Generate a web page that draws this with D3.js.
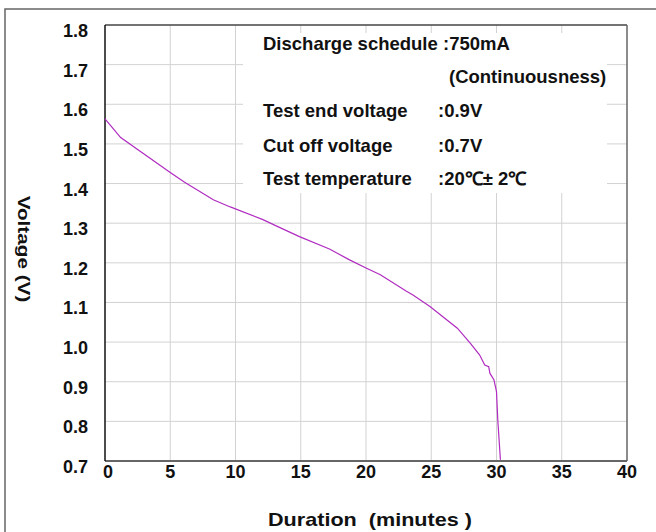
<!DOCTYPE html>
<html>
<head>
<meta charset="utf-8">
<script src="https://cdn.jsdelivr.net/npm/d3@7"></script>
<style>
  html, body { margin: 0; padding: 0; background: #fff; }
  svg { display: block; font-family: "Liberation Sans", Arial, sans-serif; font-weight: bold; }
</style>
</head>
<body>
<div class="canvas"></div>
<script>
// discharge curve
const minutes = [0, 1.2, 5, 6.1, 8.3, 9.6, 12.1, 13.2, 14.9, 17.2, 18.7, 20, 21.1, 23.1, 23.6, 24.9, 27, 28, 28.7, 29.1, 29.4, 29.5, 29.8, 30, 30.1, 30.3];
const voltage = [1.563, 1.516, 1.428, 1.403, 1.359, 1.341, 1.309, 1.292, 1.266, 1.235, 1.208, 1.187, 1.170, 1.128, 1.119, 1.090, 1.035, 0.997, 0.968, 0.942, 0.938, 0.921, 0.905, 0.875, 0.803, 0.703];

const xTicks = [0, 5, 10, 15, 20, 25, 30, 35, 40];
const yTicks = [0.7, 0.8, 0.9, 1.0, 1.1, 1.2, 1.3, 1.4, 1.5, 1.6, 1.7, 1.8];

const infoLabels = ['Discharge schedule', '', 'Test end voltage', 'Cut off voltage', 'Test temperature'];
const infoValues = [':750mA', '(Continuousness)', ':0.9V', ':0.7V', ':20\u2103\u00b1 2\u2103'];

const dimension = { width: 656, height: 532 };
const plot = { left: 105, top: 25, right: 627, bottom: 461 };

const svg = d3.select('.canvas')
    .append('svg')
    .attr('width', dimension.width)
    .attr('height', dimension.height);

// outer frame (runs off the right / bottom edge)
svg.append('rect')
    .attr('x', 5).attr('y', 9)
    .attr('width', 700).attr('height', 600)
    .attr('fill', 'none')
    .attr('stroke', '#666')
    .attr('stroke-width', 1.5);

const x = d3.scaleLinear().domain([0, 40]).range([plot.left, plot.right]);
const y = d3.scaleLinear().domain([0.7, 1.8]).range([plot.bottom, plot.top]);

// grid
svg.append('g')
    .selectAll('line')
    .data(xTicks.slice(1, -1))
    .enter().append('line')
        .attr('x1', d => x(d)).attr('x2', d => x(d))
        .attr('y1', plot.top).attr('y2', plot.bottom)
        .attr('stroke', '#d2d2d2');

svg.append('g')
    .selectAll('line')
    .data(yTicks.slice(1, -1))
    .enter().append('line')
        .attr('x1', plot.left).attr('x2', plot.right)
        .attr('y1', d => y(d)).attr('y2', d => y(d))
        .attr('stroke', '#d2d2d2');

// white box behind the test conditions
svg.append('rect')
    .attr('x', 243).attr('y', 33)
    .attr('width', 364).attr('height', 160)
    .attr('fill', '#fff');

// plot frame
svg.append('line')
    .attr('x1', plot.left).attr('x2', plot.right)
    .attr('y1', plot.top).attr('y2', plot.top)
    .attr('stroke', '#444').attr('stroke-width', 1.5);
svg.append('line')
    .attr('x1', plot.right).attr('x2', plot.right)
    .attr('y1', plot.top).attr('y2', plot.bottom)
    .attr('stroke', '#666').attr('stroke-width', 1.5);
svg.append('line')
    .attr('x1', plot.left).attr('x2', plot.right)
    .attr('y1', plot.bottom).attr('y2', plot.bottom)
    .attr('stroke', '#666').attr('stroke-width', 2);
svg.append('line')
    .attr('x1', plot.left).attr('x2', plot.left)
    .attr('y1', plot.top).attr('y2', plot.bottom)
    .attr('stroke', '#111').attr('stroke-width', 1.5);

// tick labels
svg.append('g')
    .selectAll('text')
    .data(yTicks)
    .enter().append('text')
        .attr('x', 88)
        .attr('y', d => y(d) + 6)
        .attr('dominant-baseline', 'central')
        .attr('text-anchor', 'end')
        .attr('font-size', 18)
        .attr('fill', '#111')
        .text(d => d3.format('.1f')(d));

svg.append('g')
    .selectAll('text')
    .data(xTicks)
    .enter().append('text')
        .attr('x', d => x(d) + (d === 0 ? 3 : 0))
        .attr('y', 478)
        .attr('text-anchor', 'middle')
        .attr('font-size', 18)
        .attr('fill', '#111')
        .text(d => d);

// axis titles, both drawn a bit wider than the other text
svg.append('text')
    .attr('transform', 'translate(18, 249) rotate(90) scale(1.22, 1)')
    .attr('text-anchor', 'middle')
    .attr('font-size', 17)
    .attr('fill', '#111')
    .text('Voltage (V)');

svg.append('text')
    .attr('transform', 'translate(268, 526) scale(1.2, 1)')
    .attr('font-size', 18)
    .attr('fill', '#111')
    .style('white-space', 'pre')
    .text('Duration  (minutes )');

// discharge curve
const line = d3.line()
    .x((d, i) => x(minutes[i]))
    .y(d => y(d));

svg.append('path')
    .datum(voltage)
    .attr('d', line)
    .attr('fill', 'none')
    .attr('stroke', '#b02cc0')
    .attr('stroke-width', 1.2);

// test conditions
const baselines = [50, 83, 117, 152, 185];
const info = svg.append('g')
    .attr('font-size', 18.5)
    .attr('fill', '#111');

info.selectAll('text.label')
    .data(infoLabels)
    .enter().append('text')
        .attr('class', 'label')
        .attr('x', 263)
        .attr('y', (d, i) => baselines[i])
        .text(d => d);

info.selectAll('text.value')
    .data(infoValues)
    .enter().append('text')
        .attr('class', 'value')
        .attr('x', (d, i) => i === 0 ? 443 : (i === 1 ? 449 : 438))
        .attr('y', (d, i) => baselines[i])
        .text(d => d);
</script>
</body>
</html>
